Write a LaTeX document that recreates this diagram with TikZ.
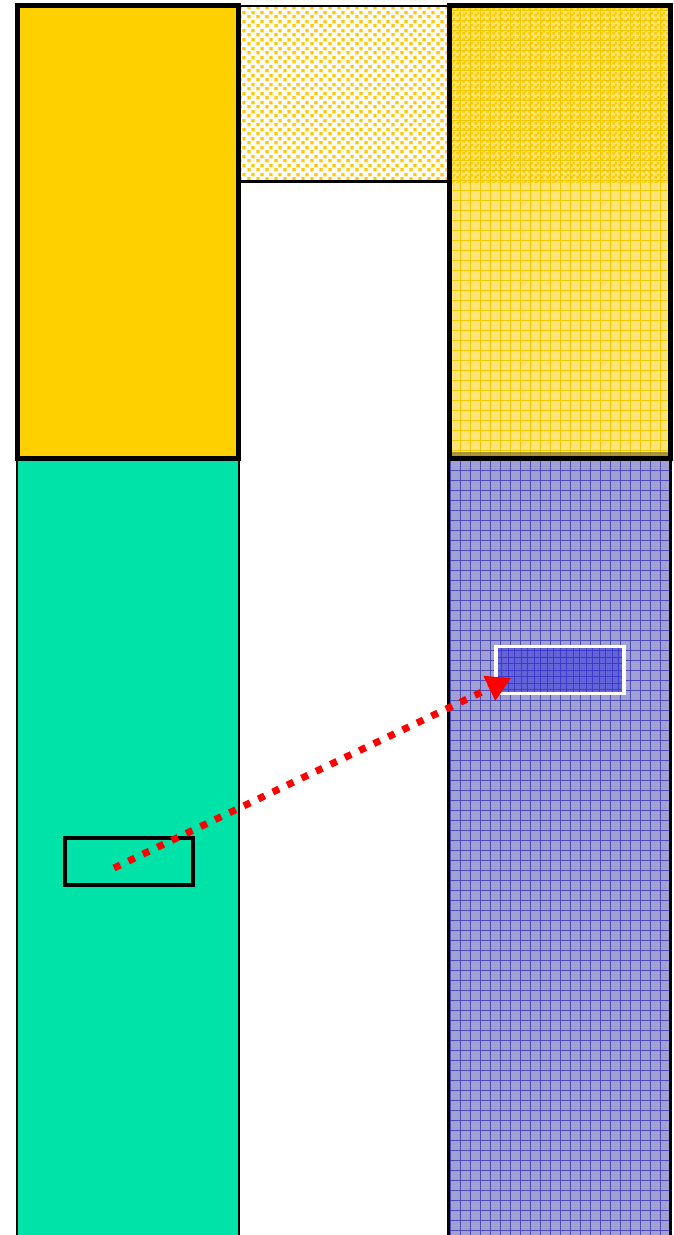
\documentclass[tikz,border=0pt]{standalone}
\usepackage{tikz}
\usetikzlibrary{positioning, arrows.meta, patterns}
\definecolor{sand}{HTML}{FFD000}
\definecolor{seagreen}{HTML}{00E3A8}
\definecolor{palesand}{HTML}{FFE47A}
\definecolor{grain}{HTML}{FFC800}
\definecolor{sandline}{HTML}{F2C800}
\definecolor{meshblue}{HTML}{A0A0D2}
\definecolor{meshline}{HTML}{4C4CB4}
\definecolor{finemesh}{HTML}{6464D8}
\definecolor{finemeshline}{HTML}{3C3CC8}
\definecolor{mudline}{HTML}{8C7A24}
\pgfdeclarepatternformonly{grains}{\pgfpointorigin}{\pgfpoint{8.5pt}{8.5pt}}{\pgfpoint{8.5pt}{8.5pt}}{
    \pgfpathrectangle{\pgfpoint{0.5pt}{0.7pt}}{\pgfpoint{3.4pt}{3.4pt}}
    \pgfpathrectangle{\pgfpoint{4.7pt}{4.9pt}}{\pgfpoint{3.4pt}{3.4pt}}
    \pgfusepath{fill}}
\pgfdeclarepatternformonly{densegrains}{\pgfpointorigin}{\pgfpoint{6pt}{6pt}}{\pgfpoint{6pt}{6pt}}{
    \pgfpathrectangle{\pgfpoint{0.3pt}{0.4pt}}{\pgfpoint{3.2pt}{3.2pt}}
    \pgfpathrectangle{\pgfpoint{3.2pt}{3.1pt}}{\pgfpoint{2.6pt}{2.6pt}}
    \pgfusepath{fill}}
\tikzset{
    border/.style = {draw=black, line width=5pt},
    thinborder/.style = {draw=black, line width=2.6pt},
    sandmesh/.style = {draw=sandline, line width=0.6pt, step=10pt},
    bluemesh/.style = {draw=meshline, line width=0.7pt, step=10pt},
    probebox/.style = {rectangle, draw=black, line width=4pt, minimum width=128pt,
                        minimum height=47pt, inner sep=0pt},
    targetbox/.style = {rectangle, draw=white, line width=3.5pt, fill=finemesh, minimum width=128pt,
                        minimum height=47pt, inner sep=0pt,
                        path picture={\draw[finemeshline, line width=0.5pt, step=6.5pt]
                            (path picture bounding box.south west) grid (path picture bounding box.north east);}},
    mapping/.style = {draw=red, line width=7pt, dash pattern=on 7pt off 9pt,
                        -{Triangle[length=24pt, width=26pt]}}
}
\begin{document}
\begin{tikzpicture}[x=1pt, y=-1pt]
    \useasboundingbox (0,0) rectangle (674,1235);
    \clip (0,0) rectangle (674,1235);
    % left column
    \fill[sand] (17,5.5) rectangle (238.5,458);
    \fill[seagreen] (17,458) rectangle (239,1245);
    % middle strip
    \fill[pattern=grains, pattern color=grain] (239,6) rectangle (449.5,181.5);
    % right column
    \fill[palesand] (449.5,5.5) rectangle (670,458);
    \fill[pattern=densegrains, pattern color=grain] (449.5,5.5) rectangle (670,182);
    \begin{scope}
        \clip (449.5,5.5) rectangle (670,458);
        \draw[sandmesh] (440,0) grid (680,460);
        \fill[mudline, opacity=0.75] (449.5,452) rectangle (670,456);
    \end{scope}
    \fill[meshblue] (449,458) rectangle (670.5,1245);
    \begin{scope}
        \clip (449,458) rectangle (670.5,1245);
        \draw[bluemesh] (440,450) grid (680,1250);
    \end{scope}
    % outlines
    \draw[thinborder] (239,6) -- (449.5,6);
    \draw[thinborder] (239,181.5) -- (449.5,181.5);
    \draw[thinborder] (17,458) rectangle (239,1250);
    \draw[thinborder] (448.5,458) rectangle (670.5,1250);
    \draw[border] (17,5.5) rectangle (238.5,458);
    \draw[border] (449.5,5.5) rectangle (670,458);
    % zoom boxes and mapping
    \node (probe) [probebox] at (129.3,861.7) {};
    \node (target) [targetbox] at (560,670) {};
    \coordinate (tail) at (114,868);
    \coordinate (tip) at (511,678);
    \draw [mapping] (tail) -- (tip);
\end{tikzpicture}
\end{document}
